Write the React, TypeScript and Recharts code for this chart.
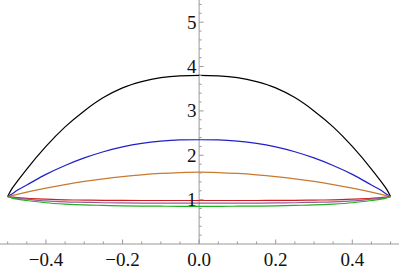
import React from 'react';
import { ComposedChart, Line, XAxis, YAxis, ReferenceLine, Scatter } from 'recharts';

const xValues = [-0.5, -0.49, -0.475, -0.45, -0.4, -0.35, -0.3, -0.25, -0.2, -0.15, -0.1, -0.05, 0, 0.05, 0.1, 0.15, 0.2, 0.25, 0.3, 0.35, 0.4, 0.45, 0.475, 0.49, 0.5];
const blackValues = [1.07, 1.23, 1.41, 1.69, 2.2, 2.64, 3.0, 3.3, 3.52, 3.66, 3.75, 3.79, 3.8, 3.79, 3.75, 3.66, 3.52, 3.3, 3.0, 2.64, 2.2, 1.69, 1.41, 1.23, 1.07];
const blueValues = [1.07, 1.12, 1.21, 1.33, 1.57, 1.77, 1.94, 2.08, 2.19, 2.27, 2.32, 2.345, 2.35, 2.345, 2.32, 2.27, 2.19, 2.08, 1.94, 1.77, 1.57, 1.33, 1.21, 1.12, 1.07];
const orangeValues = [1.07, 1.09, 1.12, 1.17, 1.26, 1.34, 1.41, 1.47, 1.52, 1.56, 1.59, 1.61, 1.62, 1.61, 1.59, 1.56, 1.52, 1.47, 1.41, 1.34, 1.26, 1.17, 1.12, 1.09, 1.07];
const redValues = [1.07, 1.06, 1.045, 1.03, 1.01, 0.995, 0.99, 0.985, 0.983, 0.981, 0.98, 0.98, 0.98, 0.98, 0.98, 0.981, 0.983, 0.985, 0.99, 0.995, 1.01, 1.03, 1.045, 1.06, 1.07];
const purpleValues = [1.07, 1.05, 1.03, 1.01, 0.97, 0.95, 0.94, 0.93, 0.925, 0.922, 0.92, 0.92, 0.92, 0.92, 0.92, 0.922, 0.925, 0.93, 0.94, 0.95, 0.97, 1.01, 1.03, 1.05, 1.07];
const greenValues = [1.07, 1.04, 1.01, 0.98, 0.93, 0.9, 0.88, 0.87, 0.86, 0.855, 0.852, 0.85, 0.85, 0.85, 0.852, 0.855, 0.86, 0.87, 0.88, 0.9, 0.93, 0.98, 1.01, 1.04, 1.07];

const xTicks = [-0.5, -0.45, -0.4, -0.35, -0.3, -0.25, -0.2, -0.15, -0.1, -0.05, 0, 0.05, 0.1, 0.15, 0.2, 0.25, 0.3, 0.35, 0.4, 0.45, 0.5];
const xTickLabels: Record<string, string> = { '-0.4': '\u22120.4', '-0.2': '\u22120.2', '0': '0.0', '0.2': '0.2', '0.4': '0.4' };
const yTicks = [0.2, 0.4, 0.6, 0.8, 1, 1.2, 1.4, 1.6, 1.8, 2, 2.2, 2.4, 2.6, 2.8, 3, 3.2, 3.4, 3.6, 3.8, 4, 4.2, 4.4, 4.6, 4.8, 5, 5.2, 5.4];
const yTickLabels: Record<string, string> = { '1': '1', '2': '2', '3': '3', '4': '4', '5': '5' };

const series = [
  { name: 'black', values: blackValues, color: '#000000' },
  { name: 'blue', values: blueValues, color: '#2020c8' },
  { name: 'orange', values: orangeValues, color: '#c87a30' },
  { name: 'red', values: redValues, color: '#cc2020' },
  { name: 'purple', values: purpleValues, color: '#9a5a9a' },
  { name: 'green', values: greenValues, color: '#20b020' },
];

const toData = (vals: number[]) => xValues.map((x, i) => ({ x, y: vals[i] }));
const yTickData = yTicks.map((v) => ({ x: 0, y: v }));

const AXIS = '#999999';
const FONT = 'Liberation Serif, DejaVu Serif, serif';

const XTick = (props: any) => {
  const { x, y, payload } = props;
  const key = String(Math.round(payload.value * 100) / 100);
  const label = xTickLabels[key];
  const len = label ? 4.5 : 2.5;
  return (
    <g>
      <line x1={x} x2={x} y1={y} y2={y - len} stroke={AXIS} strokeWidth={1} />
      {label && (
        <text x={x} y={y + 22.3} textAnchor="middle" fontFamily={FONT} fontSize={19} fill="#111">
          {label}
        </text>
      )}
    </g>
  );
};

const YTickShape = (props: any) => {
  const { cx, cy, payload } = props;
  const key = String(Math.round(payload.y * 100) / 100);
  const label = yTickLabels[key];
  const len = label ? 4.5 : 2.5;
  return (
    <g>
      <line x1={cx} x2={cx + len} y1={cy} y2={cy} stroke={AXIS} strokeWidth={1} />
      {label && (
        <text x={cx - 2.5} y={cy} dy="0.34em" textAnchor="end" fontFamily={FONT} fontSize={19} fill="#111">
          {label}
        </text>
      )}
    </g>
  );
};

export default function App() {
  return (
    <div style={{ position: 'absolute', left: 0, top: 0, width: 399, height: 274, background: '#fff' }}>
      <ComposedChart width={399} height={274} margin={{ top: 0, right: 0, bottom: 0, left: 0 }}>
        <XAxis
          dataKey="x"
          type="number"
          domain={[-0.52, 0.522]}
          ticks={xTicks}
          interval={0}
          height={30}
          tickSize={0}
          tickMargin={0}
          tickLine={false}
          axisLine={{ stroke: AXIS, strokeWidth: 1 }}
          tick={<XTick />}
          allowDataOverflow
        />
        <YAxis type="number" domain={[0, 5.5]} hide allowDataOverflow />
        <ReferenceLine x={0} stroke={AXIS} strokeWidth={1} />
        {series.map((s) => (
          <Line
            key={s.name}
            data={toData(s.values)}
            dataKey="y"
            type="monotone"
            stroke={s.color}
            strokeWidth={1.2}
            dot={false}
            activeDot={false}
            isAnimationActive={false}
          />
        ))}
        <Scatter data={yTickData} dataKey="y" shape={<YTickShape />} isAnimationActive={false} />
      </ComposedChart>
    </div>
  );
}
